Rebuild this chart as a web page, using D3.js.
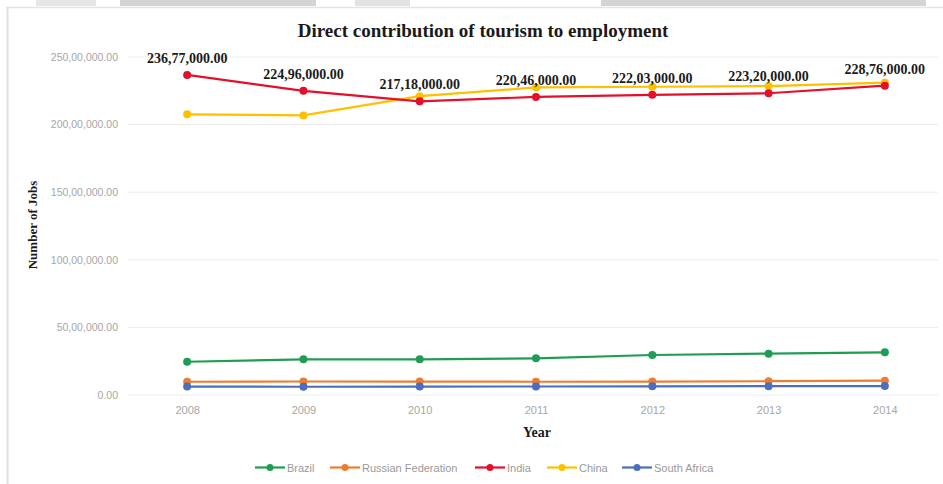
<!DOCTYPE html>
<html><head><meta charset="utf-8">
<script src="https://cdn.jsdelivr.net/npm/d3@7"></script>
<style>body{margin:0;background:#fff;}svg{display:block;}</style>
</head><body>
<svg id="c" width="943" height="484"></svg>
<script>
const years = ["2008","2009","2010","2011","2012","2013","2014"];
const seriesNames = ["Brazil","Russian Federation","India","China","South Africa"];
const brazil = [2460000, 2640000, 2640000, 2710000, 2960000, 3060000, 3160000];
const russia = [980000, 1000000, 990000, 980000, 990000, 1020000, 1060000];
const india = [23677000, 22496000, 21718000, 22046000, 22203000, 22320000, 22876000];
const china = [20760000, 20680000, 22100000, 22750000, 22800000, 22850000, 23100000];
const southAfrica = [620000, 610000, 620000, 630000, 640000, 650000, 660000];
const yTicks = [0, 5000000, 10000000, 15000000, 20000000, 25000000];
const colors = ["#1f9d55","#ed7d31","#e3102c","#ffc000","#4a6fbd"];
const seriesValues = [brazil, russia, india, china, southAfrica];

function fmt(v){
  const n = Math.round(v);
  if (n === 0) return "0.00";
  const last3 = n % 1000, rest = Math.floor(n/1000);
  const mid = rest % 100, top = Math.floor(rest/100);
  const p = (x,w)=>String(x).padStart(w,"0");
  let s;
  if (top > 0) s = top + "," + p(mid,2) + "," + p(last3,3);
  else if (rest > 0) s = rest + "," + p(last3,3);
  else s = String(last3);
  return s + ".00";
}

const svg = d3.select("#c");
// page decoration: document header strip and chart frame
const deco = svg.append("g");
deco.append("rect").attr("x",36).attr("y",0).attr("width",60).attr("height",6).attr("fill","#e6e6e6");
deco.append("rect").attr("x",120).attr("y",0).attr("width",196).attr("height",6).attr("fill","#d4d4d4");
deco.append("rect").attr("x",355).attr("y",0).attr("width",55).attr("height",6).attr("fill","#e2e2e2");
deco.append("rect").attr("x",601).attr("y",0).attr("width",325).attr("height",6).attr("fill","#d4d4d4");
deco.append("line").attr("x1",7).attr("x2",943).attr("y1",7.5).attr("y2",7.5).attr("stroke","#e4e4e4").attr("stroke-width",1.5);
deco.append("line").attr("x1",7.5).attr("x2",7.5).attr("y1",7).attr("y2",484).attr("stroke","#e0e0e0").attr("stroke-width",2);

const x = d3.scalePoint().domain(years).range([129, 943]).padding(0.5);
const y = d3.scaleLinear().domain([0, 25000000]).range([395, 57]);

// gridlines
svg.append("g").selectAll("line").data(yTicks).join("line")
  .attr("x1",128).attr("x2",938)
  .attr("y1",d=>y(d)).attr("y2",d=>y(d))
  .attr("stroke","#ececec").attr("stroke-width",1);

// y axis labels
const yAxis = d3.axisLeft(y).tickValues(yTicks).tickFormat(fmt).tickSize(0).tickPadding(0);
const ya = svg.append("g").attr("transform","translate(118,0)").call(yAxis);
ya.select(".domain").remove();
ya.selectAll("text").attr("font-family","Liberation Sans, Arial, sans-serif").attr("font-size",10.5).attr("fill","#a6a6a6");

// x axis labels
const xAxis = d3.axisBottom(x).tickSize(0).tickPadding(0);
const xa = svg.append("g").attr("transform","translate(0,406)").call(xAxis);
xa.select(".domain").remove();
xa.selectAll("text").attr("font-family","Liberation Sans, Arial, sans-serif").attr("font-size",11).attr("fill","#a6a6a6");

// lines and markers
const line = d3.line().x((d,i)=>x(years[i])).y(d=>y(d));
const drawOrder = [1,4,0,3,2];
drawOrder.forEach(si=>{
  const g = svg.append("g");
  g.append("path").attr("d", line(seriesValues[si])).attr("fill","none")
    .attr("stroke", colors[si]).attr("stroke-width",2.2);
  g.selectAll("circle").data(seriesValues[si]).join("circle")
    .attr("cx",(d,i)=>x(years[i])).attr("cy",d=>y(d)).attr("r",4)
    .attr("fill", colors[si]);
});

// data labels for India
svg.append("g").selectAll("text").data(india).join("text")
  .attr("x",(d,i)=>x(years[i])).attr("y",d=>y(d)-12)
  .attr("text-anchor","middle")
  .attr("font-family","Liberation Serif, Times New Roman, serif").attr("font-weight","bold")
  .attr("font-size",14).attr("fill","#1a1a1a")
  .text(fmt);

// title
svg.append("text").attr("x",483).attr("y",37).attr("text-anchor","middle")
  .attr("font-family","Liberation Serif, Times New Roman, serif").attr("font-weight","bold")
  .attr("font-size",19).attr("fill","#1a1a1a")
  .text("Direct contribution of tourism to employment");

// axis titles
svg.append("text").attr("transform","translate(37,225) rotate(-90)").attr("text-anchor","middle")
  .attr("font-family","Liberation Serif, Times New Roman, serif").attr("font-weight","bold")
  .attr("font-size",13).attr("fill","#1a1a1a").text("Number of Jobs");
svg.append("text").attr("x",537).attr("y",437).attr("text-anchor","middle")
  .attr("font-family","Liberation Serif, Times New Roman, serif").attr("font-weight","bold")
  .attr("font-size",14).attr("fill","#1a1a1a").text("Year");

// legend
const legendX = [255, 330, 475, 547, 622];
const lg = svg.append("g");
seriesNames.forEach((name,i)=>{
  const ly = 467.5, w = 30;
  lg.append("line").attr("x1",legendX[i]).attr("x2",legendX[i]+w)
    .attr("y1",ly).attr("y2",ly).attr("stroke",colors[i]).attr("stroke-width",2.2);
  lg.append("circle").attr("cx",legendX[i]+w/2).attr("cy",ly).attr("r",3.5).attr("fill",colors[i]);
  lg.append("text").attr("x",legendX[i]+w+2).attr("y",ly+4)
    .attr("font-family","Liberation Sans, Arial, sans-serif").attr("font-size",11).attr("fill","#9a9a9a")
    .text(name);
});
</script>
</body></html>
